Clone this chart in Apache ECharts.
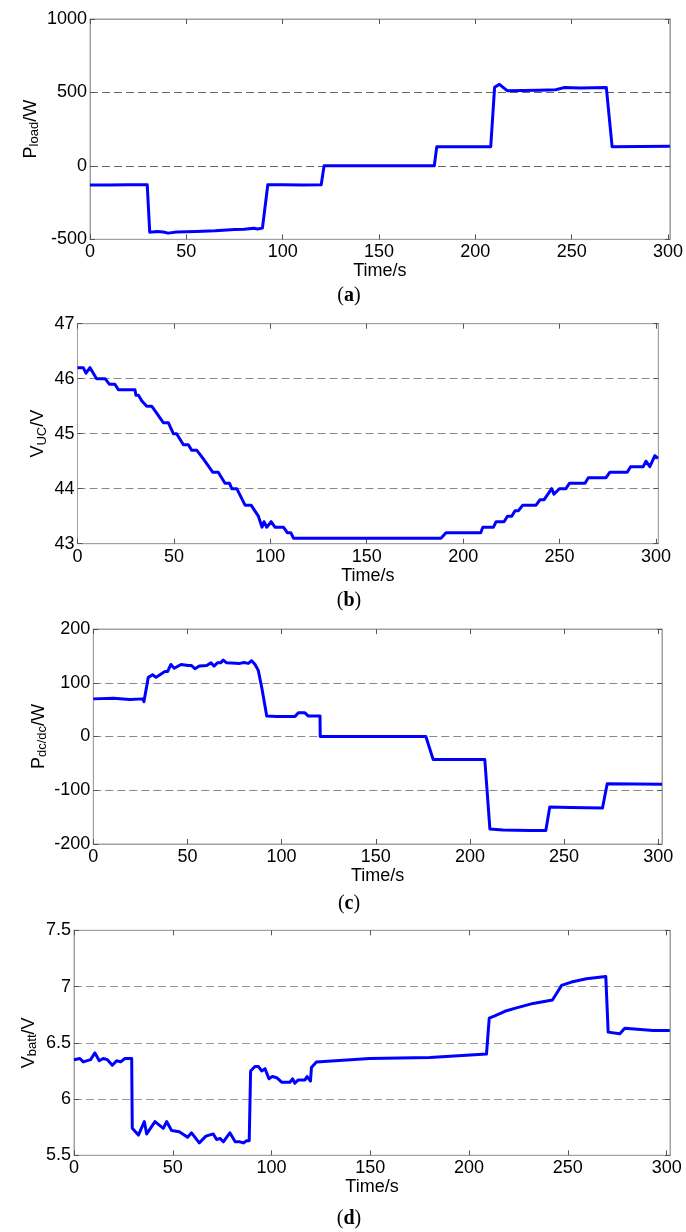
<!DOCTYPE html>
<html>
<head>
<meta charset="utf-8">
<script src="https://cdn.jsdelivr.net/npm/echarts@6/dist/echarts.min.js"></script>
<style>
html,body{margin:0;padding:0;background:#fff;}
#chart{width:686px;height:1232px;}
</style>
</head>
<body>
<div id="chart"></div>
<script>
// ---------- data ----------
const xTicks = [0, 50, 100, 150, 200, 250, 300];

// (a) load power
const timeA = [0,10,20,29.7,31,35,38,40.5,45,55,65,75,80,85,87,89.5,92.3,100,110,120,121.5,178.7,180,208,210,212.5,216.5,233,241.7,246,254.5,268,271,301];
const pLoad = [-130,-130,-128,-128,-452,-447,-450,-458,-450,-447,-442,-434,-432,-425,-430,-424,-128,-128,-130,-128,0,0,131,131,535,555,512,515,518,533,530,533,131,134];
const ticksA = [-500, 0, 500, 1000];

// (b) ultracapacitor voltage
const timeB = [0,3,4.4,6.5,9.9,14.3,16.5,19.4,21.2,29.8,30.3,31.6,33.3,35.9,38.5,44.5,47.1,49.7,51.4,54.9,57.5,59.2,61.8,64,66.1,70.1,73,76.5,78.8,80,82.6,86.9,90,93.8,95.7,96.7,98.1,100.4,102.4,106.8,108.8,110.6,112,188.5,191.1,209.1,210.2,215.7,217.1,221.2,223,225.2,226.9,228.7,230.9,237.8,239.9,242,245.9,247.1,249.9,253.3,255.1,263.2,264.9,274.1,276.1,285.1,286.8,293.4,294.8,296.8,299.4,301];
const vUC = [46.2,46.2,46.1,46.2,46.0,46.0,45.9,45.9,45.8,45.8,45.7,45.7,45.6,45.5,45.5,45.2,45.2,45.0,45.0,44.8,44.8,44.7,44.7,44.6,44.5,44.3,44.3,44.1,44.1,44.0,44.0,43.7,43.7,43.5,43.3,43.4,43.3,43.4,43.3,43.3,43.2,43.2,43.1,43.1,43.2,43.2,43.3,43.3,43.4,43.4,43.5,43.5,43.6,43.6,43.7,43.7,43.8,43.8,44.0,43.9,44.0,44.0,44.1,44.1,44.2,44.2,44.3,44.3,44.4,44.4,44.5,44.4,44.6,44.55];
const ticksB = [43, 44, 45, 46, 47];

// (c) dc/dc power
const timeC = [0,10.6,19.5,26.2,26.9,29.2,31.5,33.3,35.4,38,39.5,41.2,43,46.6,50.4,52.2,54,56.3,60.2,62.5,64.1,65.9,67.6,69,70.8,77.9,80,82.3,84.1,85.9,87.6,89.4,92.1,97.4,107.1,108.9,112.4,114.2,120.4,120.5,176.6,180.5,207.9,210.6,217.6,231.8,240.3,242.4,253,270.4,272.9,302];
const pDcdc = [70,71,69,70,65,110,115,110,115,121,121,134,127,134,132,132,126,131,132,137,131,137,137,142,137,136,137.5,136,141,134,123,92,38,37,37,44,44,38,38,0,0,-43,-43,-172,-174,-175,-175,-131,-132,-133,-88,-89];
const ticksC = [-200, -100, 0, 100, 200];

// (d) battery voltage
const timeD = [0,3,4.7,8.4,10.6,12.8,14.8,16.9,19.4,21.6,23.6,25.8,29.2,29.5,32.6,35.6,36.8,41,45.2,46.9,49.4,53.3,57.5,59.5,63.4,66.8,70.5,72.2,73.9,75.6,78.9,81.6,84,85.7,87.4,88.7,89.4,91.6,93.3,95,96.7,98.7,100.4,102.6,105.1,109.3,110.7,111.8,113.5,116.9,118,119.7,120.2,122.7,149.7,180.2,208.8,210.2,213,218.1,224,232.4,242.2,246.8,251.8,259.4,269.2,270.4,276.3,278.8,293.2,301.6];
const vBatt = [6.35,6.36,6.33,6.35,6.41,6.34,6.36,6.35,6.30,6.34,6.33,6.36,6.36,5.74,5.68,5.80,5.69,5.80,5.74,5.80,5.72,5.71,5.66,5.70,5.61,5.67,5.69,5.64,5.65,5.62,5.70,5.62,5.62,5.61,5.63,5.63,6.25,6.29,6.29,6.25,6.27,6.18,6.20,6.19,6.15,6.15,6.18,6.14,6.17,6.17,6.20,6.16,6.28,6.33,6.36,6.37,6.40,6.72,6.74,6.78,6.81,6.85,6.88,7.01,7.04,7.07,7.09,6.595,6.58,6.63,6.61,6.61];
const ticksD = [5.5, 6, 6.5, 7, 7.5];

// ---------- layout / style ----------
const FONT = '"Liberation Sans", Arial, sans-serif';
const SERIF = '"Liberation Serif", "Times New Roman", serif';
const panels = [
  {t: timeA, v: pLoad, yt: ticksA, xmax: 301,   left: 90,   right: 670,   top: 19,    bottom: 239.3,
   name: '{m|P}{s|load}{m|/W}', gap: 49, grid: '#666', cap: 'a', capY: 296},
  {t: timeB, v: vUC,   yt: ticksB, xmax: 301.2, left: 77.5, right: 658.3, top: 323.7, bottom: 543.7,
   name: '{m|V}{s|UC}{m|/V}',   gap: 29, grid: '#888', cap: 'b', capY: 601},
  {t: timeC, v: pDcdc, yt: ticksC, xmax: 302,   left: 93.3, right: 662,   top: 629,   bottom: 844,
   name: '{m|P}{s|dc/dc}{m|/W}', gap: 44, grid: '#888', cap: 'c', capY: 904},
  {t: timeD, v: vBatt, yt: ticksD, xmax: 301.7, left: 74,   right: 670,   top: 930.3, bottom: 1155.3,
   name: '{m|V}{s|batt}{m|/V}', gap: 35, grid: '#999', cap: 'd', capY: 1219}
];

const grids = [], xAxes = [], yAxes = [], series = [], graphics = [];
const nameRich = {
  m: {fontSize: 18, lineHeight: 20, fontFamily: FONT, color: '#000'},
  s: {fontSize: 13, lineHeight: 10, verticalAlign: 'bottom', fontFamily: FONT, color: '#000'}
};
const plainNum = v => String(+v.toFixed(4));

panels.forEach((p, i) => {
  grids.push({left: p.left, top: p.top, width: p.right - p.left, height: p.bottom - p.top,
    show: true, borderColor: '#a0a0a0', borderWidth: 1, backgroundColor: '#fff'});
  const yMin = p.yt[0], yMax = p.yt[p.yt.length - 1], yInt = p.yt[1] - p.yt[0];
  const axisLine = {show: true, onZero: false, lineStyle: {color: '#a0a0a0', width: 1}};
  xAxes.push({
    gridIndex: i, type: 'value', position: 'bottom', min: 0, max: p.xmax, interval: 50,
    axisLine: axisLine,
    axisTick: {show: true, inside: true, length: 5, customValues: xTicks, lineStyle: {color: '#555'}},
    axisLabel: {customValues: xTicks, margin: 4, fontSize: 18, fontFamily: FONT, color: '#000', formatter: plainNum},
    splitLine: {show: false},
    name: 'Time/s', nameLocation: 'middle', nameGap: 21,
    nameTextStyle: {fontSize: 18, fontFamily: FONT, color: '#000'}
  });
  xAxes.push({
    gridIndex: i, type: 'value', position: 'top', min: 0, max: p.xmax, interval: 50,
    axisLine: axisLine,
    axisTick: {show: true, inside: true, length: 5, customValues: xTicks, lineStyle: {color: '#555'}},
    axisLabel: {show: false}, splitLine: {show: false}
  });
  yAxes.push({
    gridIndex: i, type: 'value', position: 'left', min: yMin, max: yMax, interval: yInt,
    axisLine: axisLine,
    axisTick: {show: true, inside: true, length: 5, lineStyle: {color: '#555'}},
    axisLabel: {margin: 3, fontSize: 18, fontFamily: FONT, color: '#000', formatter: plainNum},
    splitLine: {show: true, showMinLine: false, showMaxLine: false,
      lineStyle: {color: p.grid, type: [8, 4], width: 1}},
    name: p.name, nameLocation: 'middle', nameGap: p.gap, nameMoveOverlap: false,
    nameTextStyle: {rich: nameRich}
  });
  yAxes.push({
    gridIndex: i, type: 'value', position: 'right', min: yMin, max: yMax, interval: yInt,
    axisLine: axisLine,
    axisTick: {show: true, inside: true, length: 5, lineStyle: {color: '#555'}},
    axisLabel: {show: false}, splitLine: {show: false}
  });
  series.push({
    type: 'line', xAxisIndex: 2 * i, yAxisIndex: 2 * i,
    data: p.t.map((t, k) => [t, p.v[k]]),
    showSymbol: false, symbol: 'none',
    lineStyle: {color: '#0000ff', width: 3, join: 'round'},
    itemStyle: {color: '#0000ff'},
    clip: true, silent: true
  });
  graphics.push({
    type: 'text', x: 349, y: p.capY,
    style: {
      text: '{p|(}{b|' + p.cap + '}{p|)}',
      align: 'center', verticalAlign: 'middle',
      rich: {
        p: {fontSize: 20, fontFamily: SERIF, fill: '#000'},
        b: {fontSize: 20, fontWeight: 'bold', fontFamily: SERIF, fill: '#000'}
      }
    }
  });
});

const chart = echarts.init(document.getElementById('chart'), null, {renderer: 'canvas'});
chart.setOption({
  animation: false,
  backgroundColor: '#fff',
  grid: grids,
  xAxis: xAxes,
  yAxis: yAxes,
  series: series,
  graphic: graphics
});
</script>
</body>
</html>
